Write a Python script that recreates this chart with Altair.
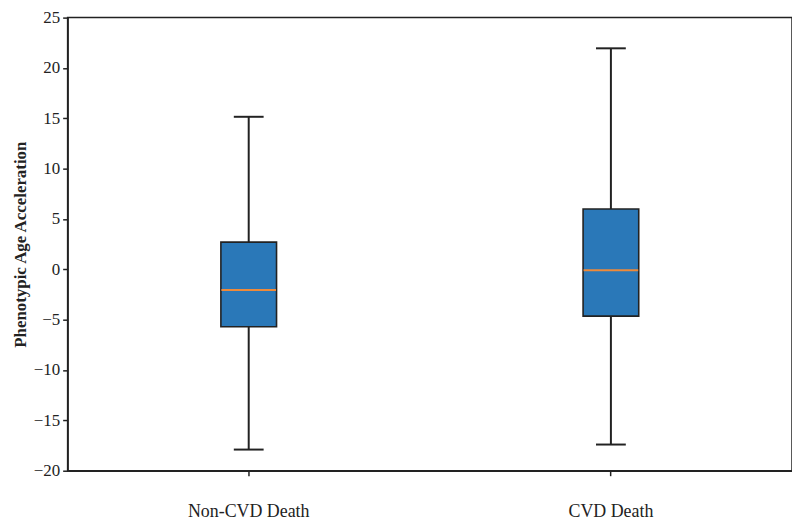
import altair as alt
import pandas as pd

groups = ["Non-CVD Death", "CVD Death"]
whisker_low = [-17.9, -17.4]
q1 = [-5.7, -4.65]
median = [-2.05, -0.1]
q3 = [2.7, 6.0]
whisker_high = [15.15, 21.95]

df = pd.DataFrame({
    "group": groups,
    "lo": whisker_low,
    "q1": q1,
    "med": median,
    "q3": q3,
    "hi": whisker_high,
})

FONT = "Liberation Serif"

x = alt.X("group:N", sort=groups, title=None,
          scale=alt.Scale(paddingInner=0, paddingOuter=0),
          axis=alt.Axis(labelAngle=0, labelFontSize=18, labelFont=FONT, labelColor="#222",
                        labelPadding=27, tickSize=5, tickColor="#222", tickWidth=1.5,
                        domainColor="#222", domainWidth=1.5, grid=False))
yscale = alt.Scale(domain=[-20, 25], nice=False, zero=False)
yaxis = alt.Axis(values=list(range(-20, 30, 5)), labelFontSize=17, labelFont=FONT, labelColor="#222",
                 labelPadding=3, tickSize=5, tickColor="#222", tickWidth=1.5,
                 domainColor="#222", domainWidth=1.5, grid=False,
                 title="Phenotypic Age Acceleration", titleFont=FONT, titleFontSize=17,
                 titleFontWeight="bold", titleColor="#222", titlePadding=4)

base = alt.Chart(df)

whisk = base.mark_rule(color="#222", strokeWidth=2).encode(
    x=x, y=alt.Y("lo:Q", scale=yscale, axis=yaxis), y2="hi:Q")
cap_lo = base.mark_tick(color="#222", thickness=2, size=30, opacity=1).encode(
    x=x, y=alt.Y("lo:Q", scale=yscale))
cap_hi = base.mark_tick(color="#222", thickness=2, size=30, opacity=1).encode(
    x=x, y=alt.Y("hi:Q", scale=yscale))
box = base.mark_bar(size=56, color="#2a78b8", stroke="#222", strokeWidth=1.6, opacity=1).encode(
    x=x, y=alt.Y("q1:Q", scale=yscale), y2="q3:Q")
med = base.mark_tick(color="#ee8a3a", thickness=2, size=55, opacity=1).encode(
    x=x, y=alt.Y("med:Q", scale=yscale))

chart = alt.layer(whisk, cap_lo, cap_hi, box, med).properties(
    width=729, height=456,
    autosize=alt.AutoSizeParams(type="none"),
    padding={"left": 60, "top": 8, "right": 0, "bottom": 60},
    background="white",
).configure_view(stroke="#222", strokeWidth=1.5)

chart.save("out.html", embed_options={"renderer": "svg", "actions": False})
